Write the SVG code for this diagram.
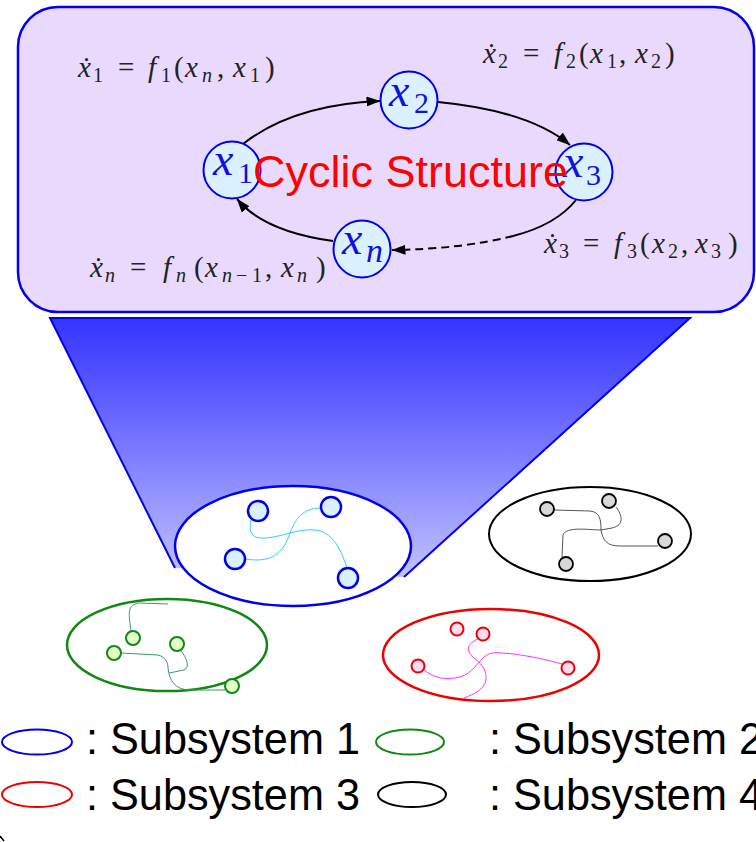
<svg xmlns="http://www.w3.org/2000/svg" width="756" height="842" viewBox="0 0 756 842">
<style>
.eq{font-family:"Liberation Serif","DejaVu Serif",serif;font-size:29px;fill:#222}
.it{font-style:italic}
.sb{font-size:20px}
.lbl{font-family:"Liberation Serif","DejaVu Serif",serif;font-size:46px;font-style:italic;fill:#1010e0}
.lsub{font-family:"Liberation Serif",serif;font-size:30px;font-style:normal}
.lsubn{font-family:"Liberation Serif",serif;font-size:34px;font-style:italic}
.cnode{fill:#dcf1ff;stroke:#0000ee;stroke-width:2}
.edge{fill:none;stroke:#000;stroke-width:2}
.legend{font-family:"Liberation Sans",Arial,sans-serif;font-size:45px;fill:#000}
.snode1{fill:#dcf1ff;stroke:#0000ee;stroke-width:2.5}
.snode2{fill:#e4ffc8;stroke:#118811;stroke-width:2}
.snode3{fill:#ffdcf4;stroke:#ee0000;stroke-width:2}
.snode4{fill:#d8d8d8;stroke:#000;stroke-width:1.8}
</style>
<defs>
<marker id="ah" viewBox="0 0 14 10" refX="13.5" refY="5" markerWidth="14" markerHeight="10" markerUnits="userSpaceOnUse" orient="auto">
<path d="M0,0 L14,5 L0,10 z" fill="#000"/>
</marker>
<linearGradient id="funnel" x1="0" y1="318" x2="0" y2="578" gradientUnits="userSpaceOnUse">
<stop offset="0" stop-color="#3434ff"/>
<stop offset="0.3" stop-color="#5c5cff"/>
<stop offset="1" stop-color="#c2c2ff"/>
</linearGradient>
</defs>
<rect width="756" height="842" fill="#fff"/>

<g id="cyclic-box">
<rect x="18" y="7" width="736" height="305" rx="40" ry="40" fill="#e9d9fd" stroke="#0000ee" stroke-width="2.5"/>
</g>

<g id="funnel-shape">
<polygon points="50,318 690,318 404,577 175,568" fill="url(#funnel)"/>
<polyline points="175,568 50,318 690,318 404,577" fill="none" stroke="#0000ee" stroke-width="2"/>
</g>

<g id="connectors">
<path class="edge" d="M243,144 C280,115 330,103 380,101" marker-end="url(#ah)"/>
<path class="edge" d="M438,102 C490,107 540,120 570,145" marker-end="url(#ah)"/>
<path class="edge" d="M576,200 Q556,225 513,236"/>
<path class="edge" d="M513,236 Q462,249 392,250" stroke-dasharray="8 5" marker-end="url(#ah)"/>
<path class="edge" d="M333,241 C290,235 256,222 237,199" marker-end="url(#ah)"/>
</g>

<g id="node-x1">
<circle class="cnode" cx="232" cy="170" r="28.5"/>
<text class="lbl" x="213" y="175">x<tspan class="lsub" x="238" y="183">1</tspan></text>
</g>
<g id="node-x2">
<circle class="cnode" cx="409" cy="100" r="28.5"/>
<text class="lbl" x="389" y="106">x<tspan class="lsub" x="414" y="113">2</tspan></text>
</g>
<g id="node-x3">
<circle class="cnode" cx="584" cy="172" r="28.5"/>
<text class="lbl" x="563" y="177">x<tspan class="lsub" x="586" y="185">3</tspan></text>
</g>
<g id="node-xn">
<circle class="cnode" cx="362" cy="249" r="28.5"/>
<text class="lbl" x="342" y="254">x<tspan class="lsubn" x="366" y="262">n</tspan></text>
</g>

<g id="title">
<text x="253" y="187" font-family="Liberation Sans, Arial, sans-serif" font-size="45" fill="#ff0000">Cyclic Structure</text>
</g>

<g id="equations">
<text class="eq"><tspan class="it" x="78" y="77">ẋ</tspan><tspan class="sb" x="93" y="82">1</tspan><tspan x="118" y="77">=</tspan><tspan class="it" x="148" y="77">f</tspan><tspan class="sb" x="161" y="82">1</tspan><tspan x="174" y="77">(</tspan><tspan class="it" x="185" y="77">x</tspan><tspan class="it sb" x="202" y="82">n</tspan><tspan x="217" y="77">,</tspan><tspan class="it" x="233" y="77">x</tspan><tspan class="sb" x="250" y="82">1</tspan><tspan x="265" y="77">)</tspan></text>
<text class="eq"><tspan class="it" x="483" y="63">ẋ</tspan><tspan class="sb" x="498" y="68">2</tspan><tspan x="523" y="63">=</tspan><tspan class="it" x="554" y="63">f</tspan><tspan class="sb" x="566" y="68">2</tspan><tspan x="579" y="63">(</tspan><tspan class="it" x="590" y="63">x</tspan><tspan class="sb" x="607" y="68">1</tspan><tspan x="619" y="63">,</tspan><tspan class="it" x="635" y="63">x</tspan><tspan class="sb" x="651" y="68">2</tspan><tspan x="665" y="63">)</tspan></text>
<text class="eq"><tspan class="it" x="544" y="253">ẋ</tspan><tspan class="sb" x="559" y="258">3</tspan><tspan x="583" y="253">=</tspan><tspan class="it" x="614" y="253">f</tspan><tspan class="sb" x="627" y="258">3</tspan><tspan x="640" y="253">(</tspan><tspan class="it" x="652" y="253">x</tspan><tspan class="sb" x="668" y="258">2</tspan><tspan x="681" y="253">,</tspan><tspan class="it" x="695" y="253">x</tspan><tspan class="sb" x="711" y="258">3</tspan><tspan x="728" y="253">)</tspan></text>
<text class="eq"><tspan class="it" x="90" y="277">ẋ</tspan><tspan class="it sb" x="105" y="282">n</tspan><tspan x="130" y="277">=</tspan><tspan class="it" x="163" y="277">f</tspan><tspan class="it sb" x="176" y="282">n</tspan><tspan x="194" y="277">(</tspan><tspan class="it" x="205" y="277">x</tspan><tspan class="it sb" x="222" y="282">n</tspan><tspan class="sb" x="236" y="282">−</tspan><tspan class="sb" x="252" y="282">1</tspan><tspan x="265" y="277">,</tspan><tspan class="it" x="281" y="277">x</tspan><tspan class="it sb" x="297" y="282">n</tspan><tspan x="316" y="277">)</tspan></text>
</g>

<g id="subsystem-1">
<ellipse cx="293" cy="546" rx="118" ry="60" fill="#fff" stroke="#0000ee" stroke-width="2.5"/>
<path d="M251,520 C247,540 258,542 290,533 C320,525 335,530 347,568" fill="none" stroke="#33ccff" stroke-width="1"/>
<path d="M321,508 C302,508 295,520 290,533 C283,555 270,563 245,559" fill="none" stroke="#33ccff" stroke-width="1"/>
<circle class="snode1" cx="258" cy="511" r="10"/>
<circle class="snode1" cx="331" cy="507" r="10"/>
<circle class="snode1" cx="235" cy="559" r="10"/>
<circle class="snode1" cx="348" cy="578" r="10"/>
</g>

<g id="subsystem-4">
<ellipse cx="590" cy="534" rx="101" ry="47" fill="#fff" stroke="#000" stroke-width="2"/>
<path d="M554,510 L590,511 C600,512 601,520 601,530 C603,540 606,546 620,546 L658,546" fill="none" stroke="#555" stroke-width="1"/>
<path d="M616,507 C622,515 625,525 612,528 L601,530 C590,530 566,526 563,535 L562,557" fill="none" stroke="#555" stroke-width="1"/>
<circle class="snode4" cx="547" cy="509" r="7"/>
<circle class="snode4" cx="609" cy="501" r="7"/>
<circle class="snode4" cx="665" cy="541" r="7"/>
<circle class="snode4" cx="566" cy="564" r="7"/>
</g>

<g id="subsystem-2">
<ellipse cx="167" cy="645" rx="100" ry="46" fill="#fff" stroke="#118811" stroke-width="2.5"/>
<path d="M131,631 C129,615 126,604 140,603 L168,604" fill="none" stroke="#3a9a6a" stroke-width="1"/>
<path d="M121,653 L158,655 C166,657 168,663 168,668 C169,680 175,690 190,690 L225,690" fill="none" stroke="#3a9a6a" stroke-width="1"/>
<path d="M181,651 C187,658 190,668 184,670 L169,673" fill="none" stroke="#3a9a6a" stroke-width="1"/>
<circle class="snode2" cx="133" cy="638" r="7"/>
<circle class="snode2" cx="177" cy="644" r="7"/>
<circle class="snode2" cx="114" cy="653" r="7"/>
<circle class="snode2" cx="232" cy="686" r="7"/>
</g>

<g id="subsystem-3">
<ellipse cx="491" cy="655" rx="108" ry="46" fill="#fff" stroke="#ee0000" stroke-width="2.5"/>
<path d="M424,670 C432,676 440,680 455,678 C470,676 475,666 482,659 C488,653 493,652 502,653 C520,654 545,659 562,664" fill="none" stroke="#ff33ff" stroke-width="1"/>
<path d="M478,639 C468,643 465,650 473,657 C480,663 487,668 486,680 C484,690 474,694 464,698" fill="none" stroke="#ff33ff" stroke-width="1"/>
<circle class="snode3" cx="457" cy="629" r="6.5"/>
<circle class="snode3" cx="483" cy="634" r="6.5"/>
<circle class="snode3" cx="418" cy="666" r="6.5"/>
<circle class="snode3" cx="568" cy="668" r="6.5"/>
</g>

<g id="legend">
<ellipse cx="37" cy="742" rx="35" ry="12.5" fill="none" stroke="#0000ee" stroke-width="2"/>
<text class="legend" x="86" y="754" textLength="274" lengthAdjust="spacingAndGlyphs">: Subsystem 1</text>
<ellipse cx="410" cy="742" rx="34" ry="12.5" fill="none" stroke="#118811" stroke-width="2"/>
<text class="legend" x="489" y="754" textLength="274" lengthAdjust="spacingAndGlyphs">: Subsystem 2</text>
<ellipse cx="37" cy="794.5" rx="35" ry="12.5" fill="none" stroke="#ee0000" stroke-width="2"/>
<text class="legend" x="86" y="810" textLength="274" lengthAdjust="spacingAndGlyphs">: Subsystem 3</text>
<ellipse cx="412" cy="794.5" rx="34" ry="12.5" fill="none" stroke="#000" stroke-width="2"/>
<text class="legend" x="489" y="810" textLength="274" lengthAdjust="spacingAndGlyphs">: Subsystem 4</text>
</g>
<path d="M0,836 L4,841" stroke="#000" stroke-width="1.5" fill="none"/>
</svg>
